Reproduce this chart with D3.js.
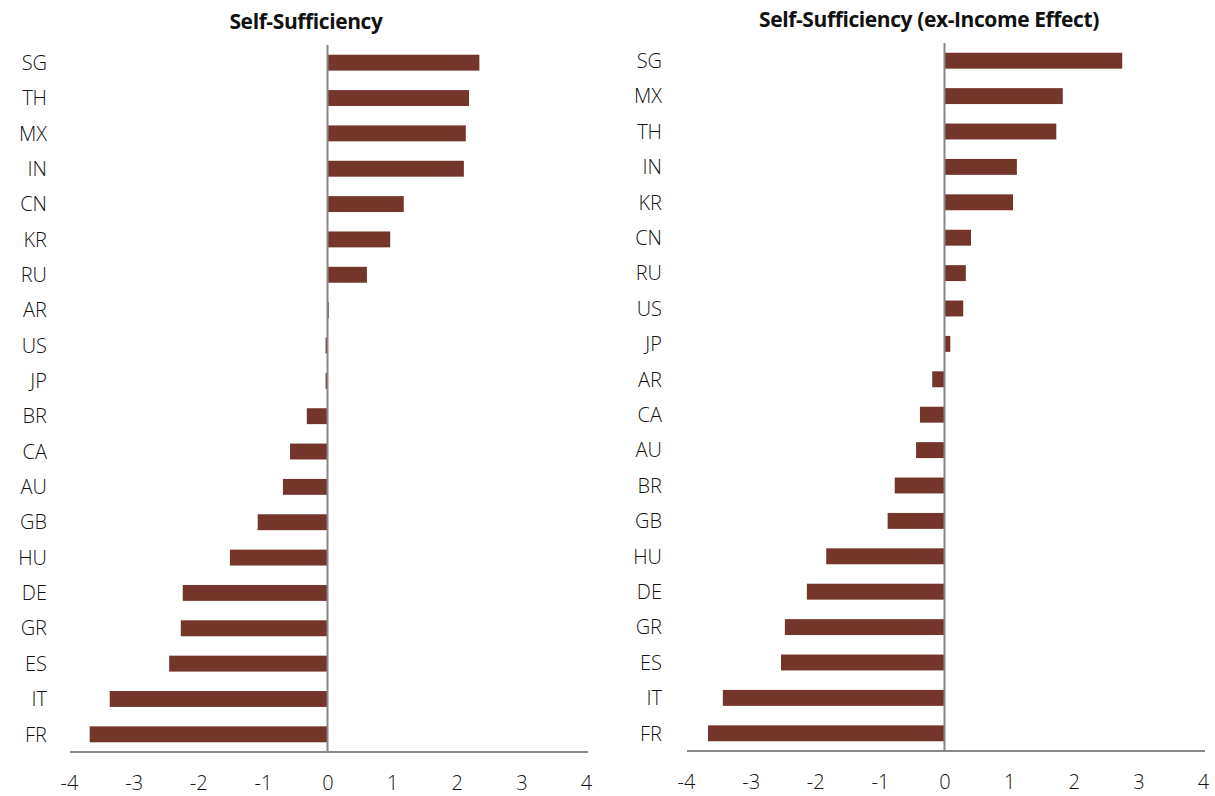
<!DOCTYPE html>
<html>
<head>
<meta charset="utf-8">
<script src="https://cdn.jsdelivr.net/npm/d3@7"></script>
<style>
body{margin:0;background:#fff;}
text{font-family:"Open Sans","Noto Sans",sans-serif;fill:#111;}
</style>
</head>
<body>
<svg id="chart"></svg>
<script>
var width=1215, height=796;

// left panel data
var leftTitle="Self-Sufficiency";
var leftCountries=["SG","TH","MX","IN","CN","KR","RU","AR","US","JP","BR","CA","AU","GB","HU","DE","GR","ES","IT","FR"];
var leftValues=[2.35,2.19,2.14,2.11,1.18,0.97,0.61,0.02,-0.03,-0.03,-0.32,-0.58,-0.69,-1.08,-1.51,-2.24,-2.27,-2.45,-3.37,-3.68];

// right panel data
var rightTitle="Self-Sufficiency (ex-Income Effect)";
var rightCountries=["SG","MX","TH","IN","KR","CN","RU","US","JP","AR","CA","AU","BR","GB","HU","DE","GR","ES","IT","FR"];
var rightValues=[2.75,1.83,1.73,1.12,1.06,0.41,0.33,0.29,0.09,-0.19,-0.38,-0.44,-0.77,-0.88,-1.83,-2.13,-2.47,-2.53,-3.43,-3.66];

var xTicks=[-4,-3,-2,-1,0,1,2,3,4];

var svg=d3.select("#chart")
    .attr("width",width)
    .attr("height",height);

function panel(title,countries,values,x0,x1,y0,y1,labelX,titleX,titleY){
    var x=d3.scaleLinear().domain([-4,4]).range([x0,x1]);
    var y=d3.scaleBand().domain(countries).range([y0,y1]).paddingInner(0.55).paddingOuter(0.275);
    var g=svg.append("g");

    g.append("text")
        .attr("x",titleX).attr("y",titleY)
        .attr("text-anchor","middle")
        .style("font-size","21px")
        .style("font-weight","bold")
        .style("letter-spacing","-0.4px")
        .text(title);

    g.selectAll("rect.bar")
        .data(values)
        .enter().append("rect")
        .attr("class","bar")
        .attr("x",function(d){return x(Math.min(0,d));})
        .attr("width",function(d){return Math.max(Math.abs(x(d)-x(0)),0.6);})
        .attr("y",function(d,i){return y(countries[i]);})
        .attr("height",y.bandwidth())
        .attr("fill","#74352b");

    // zero line
    g.append("line")
        .attr("x1",x(0)).attr("x2",x(0))
        .attr("y1",y0).attr("y2",y1)
        .attr("stroke","#888").attr("stroke-width",2);

    // category labels
    g.selectAll("text.cat")
        .data(countries)
        .enter().append("text")
        .attr("class","cat")
        .attr("x",labelX)
        .attr("y",function(d){return y(d)+y.bandwidth()/2;})
        .attr("dy","0.36em")
        .attr("text-anchor","end")
        .style("font-size","20px")
        .style("font-weight","300")
        .text(function(d){return d;});

    var axis=d3.axisBottom(x).tickValues(xTicks).tickSize(0).tickPadding(24)
        .tickFormat(function(d){return d3.format("d")(d).replace("−","-");});
    var ax=g.append("g")
        .attr("transform","translate(0,"+y1+")")
        .call(axis);
    ax.select(".domain").attr("stroke","#888").attr("stroke-width",2)
        .attr("d","M"+(x0+1)+",0H"+(x1+2));
    ax.selectAll("text")
        .style("font-size","20px")
        .style("font-weight","300")
        .attr("fill","#111");
}

panel(leftTitle,leftCountries,leftValues,69,586,45,752,47,306,29);
panel(rightTitle,rightCountries,rightValues,686,1203,43,751,662,929,27);
</script>
</body>
</html>
